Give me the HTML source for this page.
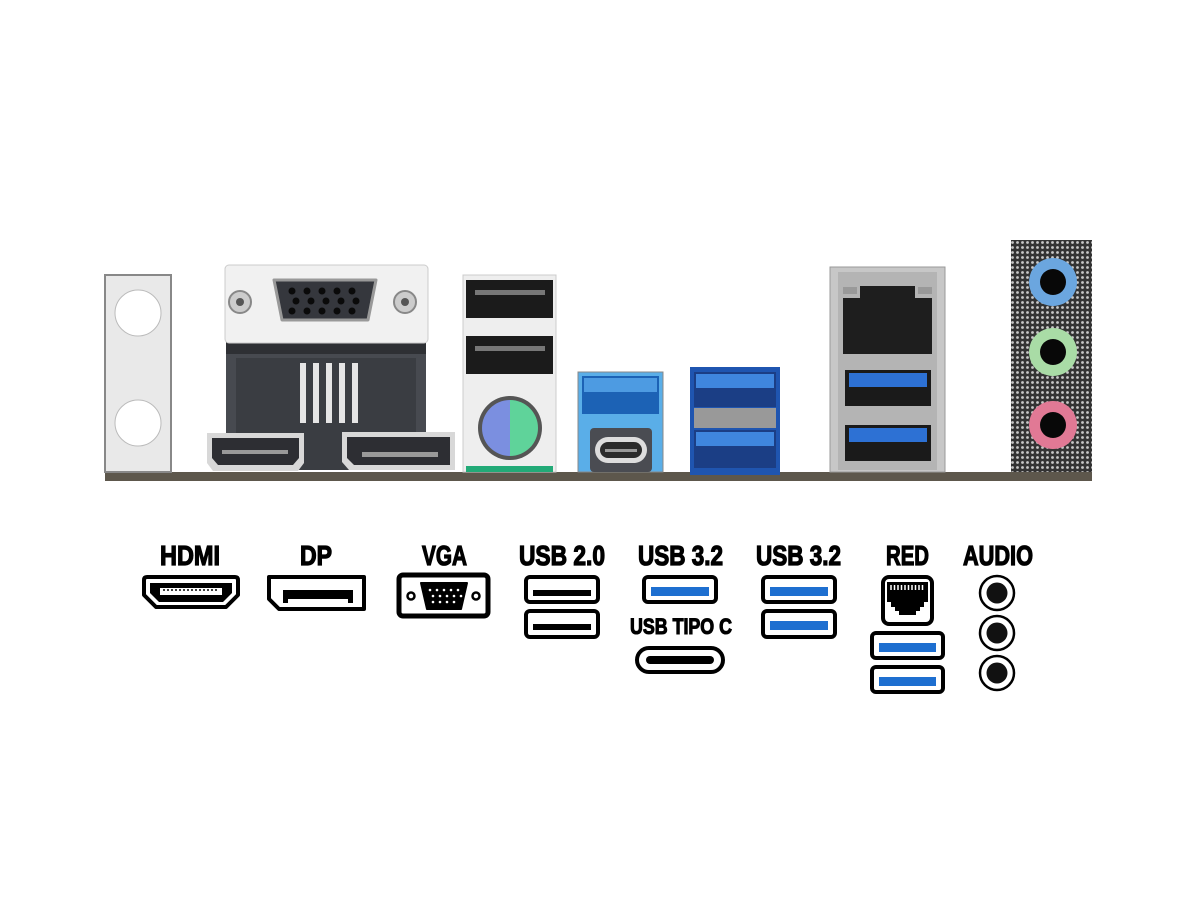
<!DOCTYPE html>
<html><head><meta charset="utf-8"><style>
html,body{margin:0;padding:0;background:#fff;}
svg{display:block}
.l{font-family:"Liberation Sans Narrow","Liberation Sans",sans-serif;font-weight:bold;fill:#000;stroke:#000;stroke-width:1.3;}
</style></head><body>
<svg width="1200" height="900" viewBox="0 0 1200 900" xmlns="http://www.w3.org/2000/svg">
<defs>
<pattern id="mesh" width="5" height="5" patternUnits="userSpaceOnUse">
<rect width="5" height="5" fill="#333"/><circle cx="2.5" cy="2.5" r="1.4" fill="#c8c8c8"/>
</pattern>
</defs>
<rect width="1200" height="900" fill="#fff"/>

<rect x="105" y="472" width="987" height="9" fill="#5d574c"/>
<rect x="105" y="275" width="66" height="197" fill="#e9e9e9" stroke="#888" stroke-width="2"/>
<circle cx="138" cy="313" r="23" fill="#fff" stroke="#bbb"/>
<circle cx="138" cy="423" r="23" fill="#fff" stroke="#bbb"/>
<rect x="226" y="340" width="200" height="130" fill="#474a50"/>
<rect x="236" y="358" width="180" height="112" fill="#3a3d42"/>
<rect x="226" y="340" width="200" height="14" fill="#2e3034"/>
<g fill="#e5e5e5"><rect x="300" y="363" width="6" height="60"/><rect x="313" y="363" width="6" height="60"/><rect x="326" y="363" width="6" height="60"/><rect x="339" y="363" width="6" height="60"/><rect x="352" y="363" width="6" height="60"/></g>
<rect x="225" y="265" width="203" height="78" rx="4" fill="#f1f1f1" stroke="#ccc"/>
<path d="M274 280 h102 l-8 40 h-86 z" fill="#35373d" stroke="#999" stroke-width="3" stroke-linejoin="round"/>
<g fill="#0a0a0a">
<circle cx="292" cy="291" r="3.5"/><circle cx="307" cy="291" r="3.5"/><circle cx="322" cy="291" r="3.5"/><circle cx="337" cy="291" r="3.5"/><circle cx="352" cy="291" r="3.5"/>
<circle cx="296" cy="301" r="3.5"/><circle cx="311" cy="301" r="3.5"/><circle cx="326" cy="301" r="3.5"/><circle cx="341" cy="301" r="3.5"/><circle cx="356" cy="301" r="3.5"/>
<circle cx="292" cy="311" r="3.5"/><circle cx="307" cy="311" r="3.5"/><circle cx="322" cy="311" r="3.5"/><circle cx="337" cy="311" r="3.5"/><circle cx="352" cy="311" r="3.5"/>
</g>
<circle cx="240" cy="302" r="11" fill="#ccc" stroke="#888" stroke-width="2"/><circle cx="240" cy="302" r="4" fill="#555"/>
<circle cx="405" cy="302" r="11" fill="#ccc" stroke="#888" stroke-width="2"/><circle cx="405" cy="302" r="4" fill="#555"/>
<path d="M207 433 h97 v30 l-6 8 h-85 l-6 -8 z" fill="#d8d8d8"/>
<path d="M212 438 h87 v20 l-6 7 h-75 l-6 -7 z" fill="#2d2e33"/>
<rect x="222" y="450" width="66" height="4" fill="#999"/>
<path d="M342 432 h113 v38 h-106 l-7 -8 z" fill="#d8d8d8"/>
<path d="M347 437 h103 v28 h-96 l-7 -7 z" fill="#2d2e33"/>
<rect x="362" y="452" width="76" height="5" fill="#999"/>
<rect x="463" y="275" width="93" height="197" fill="#eee" stroke="#ccc"/>
<rect x="466" y="280" width="87" height="38" fill="#1b1b1b"/>
<rect x="475" y="290" width="70" height="5" fill="#777"/>
<rect x="466" y="336" width="87" height="38" fill="#1b1b1b"/>
<rect x="475" y="346" width="70" height="5" fill="#777"/>
<circle cx="510" cy="428" r="32" fill="#555"/>
<path d="M510 400 a28 28 0 0 0 0 56 z" fill="#7b8fe0"/>
<path d="M510 400 a28 28 0 0 1 0 56 z" fill="#5fd39a"/>
<rect x="466" y="466" width="87" height="6" fill="#2a7"/>
<rect x="578" y="372" width="85" height="100" fill="#5aaee8" stroke="#888"/>
<rect x="582" y="376" width="77" height="38" fill="#1c62b5"/>
<rect x="584" y="378" width="73" height="14" fill="#4d9be2"/>
<rect x="590" y="428" width="62" height="44" rx="4" fill="#4a4c52"/>
<rect x="595" y="437" width="52" height="26" rx="13" fill="#ddd"/>
<rect x="600" y="442" width="42" height="16" rx="8" fill="#2b2b2b"/>
<rect x="605" y="449" width="32" height="3" fill="#999"/>
<rect x="690" y="367" width="90" height="108" fill="#1f55b0"/>
<rect x="694" y="372" width="82" height="35" fill="#1b3e85"/>
<rect x="696" y="374" width="78" height="14" fill="#3f86de"/>
<rect x="694" y="408" width="82" height="20" fill="#999"/>
<rect x="694" y="430" width="82" height="38" fill="#1b3e85"/>
<rect x="696" y="432" width="78" height="14" fill="#3f86de"/>
<rect x="830" y="267" width="115" height="205" fill="#c7c7c7" stroke="#999"/>
<rect x="838" y="272" width="99" height="198" fill="#b4b4b4"/>
<path d="M843 298 h17 v-12 h55 v12 h17 v56 h-89 z" fill="#1e1e1e"/>
<rect x="843" y="287" width="14" height="7" fill="#999"/>
<rect x="918" y="287" width="14" height="7" fill="#999"/>
<rect x="845" y="370" width="86" height="36" fill="#1a1a1a"/>
<rect x="849" y="373" width="78" height="14" fill="#2d71d4"/>
<rect x="845" y="425" width="86" height="36" fill="#1a1a1a"/>
<rect x="849" y="428" width="78" height="14" fill="#2d71d4"/>
<rect x="1011" y="240" width="81" height="232" fill="url(#mesh)"/>
<circle cx="1053" cy="282" r="24" fill="#6ba6df"/><circle cx="1053" cy="282" r="13" fill="#080808"/>
<circle cx="1053" cy="352" r="24" fill="#a9dca6"/><circle cx="1053" cy="352" r="13" fill="#080808"/>
<circle cx="1053" cy="425" r="24" fill="#e17995"/><circle cx="1053" cy="425" r="13" fill="#080808"/>

<g class="l" font-size="28">
<text x="160" y="565" textLength="60" lengthAdjust="spacingAndGlyphs">HDMI</text>
<text x="300" y="565" textLength="32" lengthAdjust="spacingAndGlyphs">DP</text>
<text x="422" y="565" textLength="45" lengthAdjust="spacingAndGlyphs">VGA</text>
<text x="519" y="565" textLength="86" lengthAdjust="spacingAndGlyphs">USB 2.0</text>
<text x="638" y="565" textLength="85" lengthAdjust="spacingAndGlyphs">USB 3.2</text>
<text x="756" y="565" textLength="85" lengthAdjust="spacingAndGlyphs">USB 3.2</text>
<text x="886" y="565" textLength="43" lengthAdjust="spacingAndGlyphs">RED</text>
<text x="963" y="565" textLength="70" lengthAdjust="spacingAndGlyphs">AUDIO</text>
</g>
<text class="l" x="630" y="634" font-size="22" textLength="102" lengthAdjust="spacingAndGlyphs" style="stroke-width:1.1">USB TIPO C</text>

<path d="M144 580 q0-3 3-3 h88 q3 0 3 3 v15 l-12 12 h-70 l-12 -12 z" fill="#fff" stroke="#000" stroke-width="4" stroke-linejoin="round"/>
<path d="M150 583 h82 v10 l-9 9 h-64 l-9 -9 z" fill="#000"/>
<rect x="160" y="588" width="62" height="7" fill="#fff"/>
<path d="M163 590 h56" stroke="#000" stroke-width="1.5" stroke-dasharray="2 2"/>
<path d="M269 577 h95 v32 h-85 l-10 -10 z" fill="#fff" stroke="#000" stroke-width="4" stroke-linejoin="round"/>
<path d="M283 590 h70 v13 h-5 v-4 h-60 v4 h-5 z" fill="#000"/>
<rect x="399" y="575" width="89" height="41" rx="4" fill="#fff" stroke="#000" stroke-width="5"/>
<path d="M421 583 h46 l-6 26 h-34 z" fill="#000" stroke="#000" stroke-width="2" stroke-linejoin="round"/>
<g fill="#fff"><circle cx="430" cy="590" r="1.3"/><circle cx="437" cy="590" r="1.3"/><circle cx="444" cy="590" r="1.3"/><circle cx="451" cy="590" r="1.3"/><circle cx="458" cy="590" r="1.3"/>
<circle cx="433" cy="596" r="1.3"/><circle cx="440" cy="596" r="1.3"/><circle cx="447" cy="596" r="1.3"/><circle cx="454" cy="596" r="1.3"/><circle cx="461" cy="596" r="1.3"/>
<circle cx="433" cy="602" r="1.3"/><circle cx="440" cy="602" r="1.3"/><circle cx="447" cy="602" r="1.3"/><circle cx="454" cy="602" r="1.3"/></g>
<circle cx="411" cy="596" r="3.5" fill="#fff" stroke="#000" stroke-width="2.5"/>
<circle cx="476" cy="596" r="3.5" fill="#fff" stroke="#000" stroke-width="2.5"/>
<rect x="526" y="577" width="72" height="25" rx="4" fill="#fff" stroke="#000" stroke-width="4"/>
<rect x="533" y="590" width="58" height="6" fill="#000"/>
<rect x="526" y="611" width="72" height="26" rx="4" fill="#fff" stroke="#000" stroke-width="4"/>
<rect x="533" y="624" width="58" height="6" fill="#000"/>
<rect x="644" y="577" width="72" height="25" rx="4" fill="#fff" stroke="#000" stroke-width="4"/>
<rect x="651" y="587" width="58" height="9" fill="#1e6fd0"/>
<rect x="637" y="648" width="86" height="24" rx="12" fill="#fff" stroke="#000" stroke-width="4"/>
<rect x="646" y="656" width="68" height="8" rx="4" fill="#000"/>
<rect x="763" y="577" width="72" height="25" rx="4" fill="#fff" stroke="#000" stroke-width="4"/>
<rect x="770" y="587" width="58" height="9" fill="#1e6fd0"/>
<rect x="763" y="611" width="72" height="26" rx="4" fill="#fff" stroke="#000" stroke-width="4"/>
<rect x="770" y="621" width="58" height="9" fill="#1e6fd0"/>
<rect x="883" y="577" width="49" height="47" rx="6" fill="#fff" stroke="#000" stroke-width="4"/>
<path d="M887 582 h41 v20 h-4 v5 h-4 v4 h-4 v4 h-17 v-4 h-4 v-4 h-4 v-5 h-4 z" fill="#000"/>
<path d="M891 585 v5 M894.5 585 v5 M898 585 v5 M901.5 585 v5 M905 585 v5 M908.5 585 v5 M912 585 v5 M915.5 585 v5 M919 585 v5 M922.5 585 v5" stroke="#fff" stroke-width="1.5"/>
<rect x="872" y="633" width="71" height="25" rx="4" fill="#fff" stroke="#000" stroke-width="4"/>
<rect x="879" y="643" width="57" height="9" fill="#1e6fd0"/>
<rect x="872" y="667" width="71" height="25" rx="4" fill="#fff" stroke="#000" stroke-width="4"/>
<rect x="879" y="677" width="57" height="9" fill="#1e6fd0"/>
<g fill="#fff" stroke="#000" stroke-width="2.5">
<circle cx="997" cy="593" r="17"/><circle cx="997" cy="633" r="17"/><circle cx="997" cy="673" r="17"/></g>
<g fill="#111"><circle cx="997" cy="593" r="10.5"/><circle cx="997" cy="633" r="10.5"/><circle cx="997" cy="673" r="10.5"/></g>
</svg>
</body></html>
